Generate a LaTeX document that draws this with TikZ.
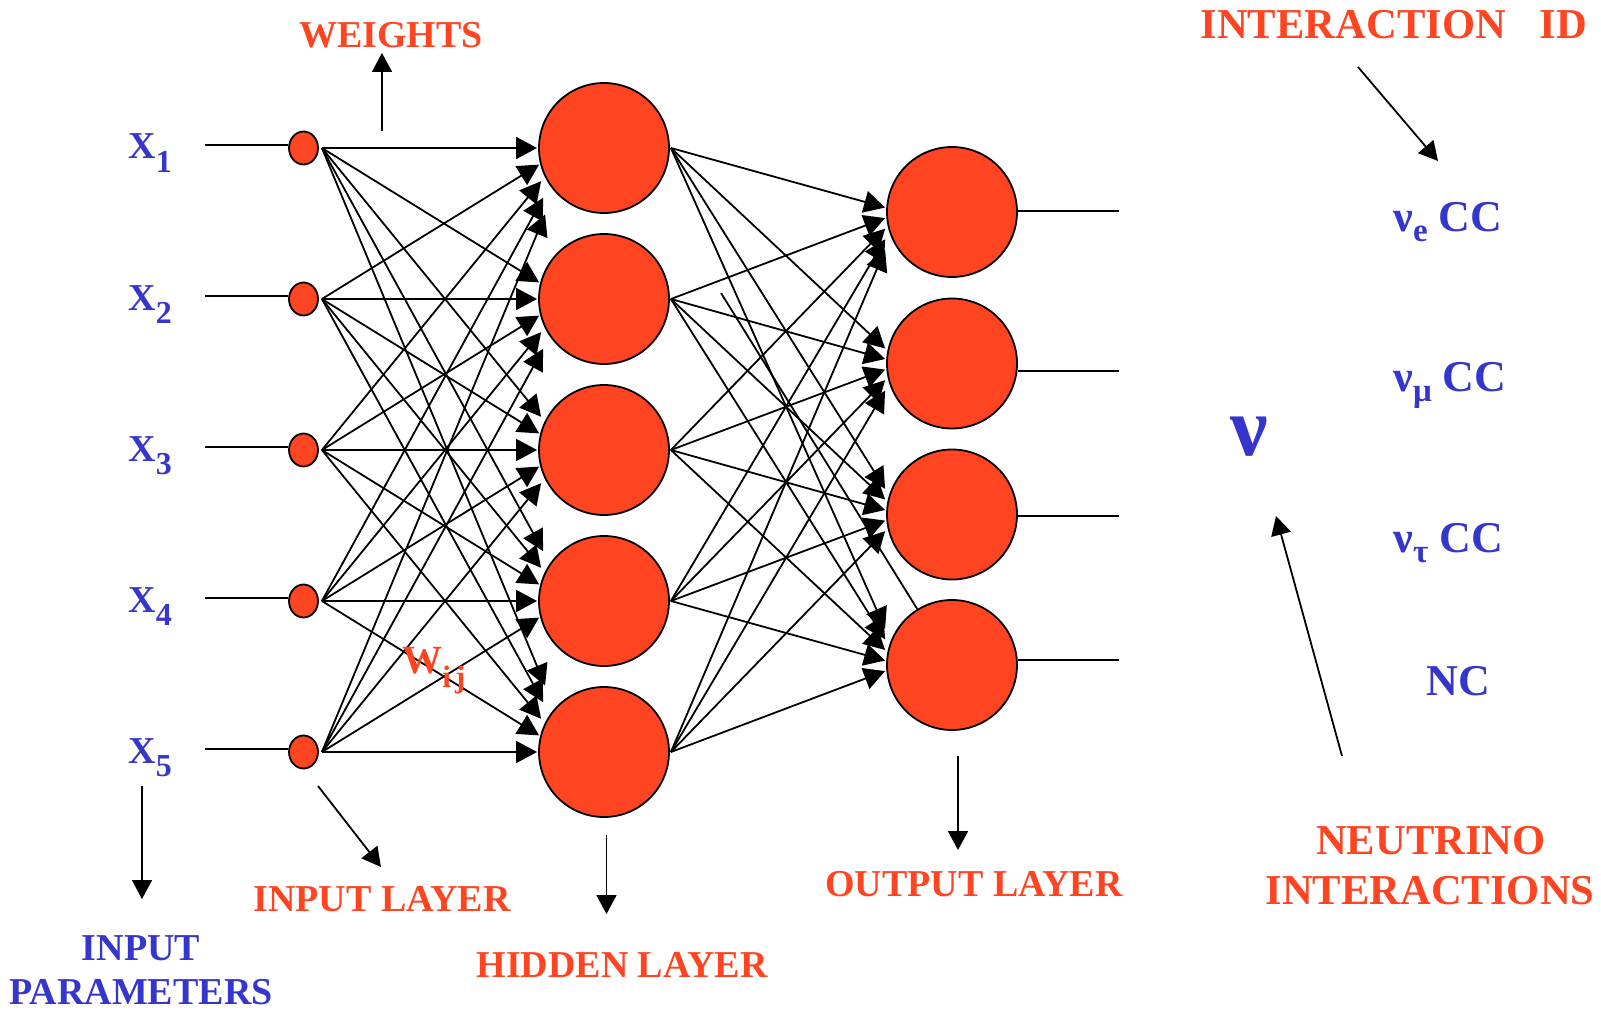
\documentclass[tikz,border=0pt]{standalone}
\usepackage{fontspec}
\setmainfont{Liberation Serif}
\usetikzlibrary{arrows.meta,shapes.geometric}
\definecolor{nred}{HTML}{FF4422}
\definecolor{nblue}{HTML}{3636CC}
\begin{document}
\begin{tikzpicture}[x=0.5pt,y=-0.5pt,
  conn/.style={line width=0.9pt,-{Triangle[length=9.5pt,width=10pt]}},
  nconn/.style={line width=0.9pt,-{Triangle[length=10.5pt,width=11pt]}},
  plain/.style={line width=0.9pt},
  inode/.style={ellipse,draw,line width=0.9pt,fill=nred,minimum width=14.5pt,minimum height=16.5pt,inner sep=0pt},
  bnode/.style={circle,draw,line width=0.9pt,fill=nred,minimum size=65pt,inner sep=0pt},
  rtxt/.style={text=nred,font=\bfseries\fontsize{19}{22}\selectfont,inner sep=0pt},
  btxt/.style={text=nblue,font=\bfseries\fontsize{19}{22}\selectfont,inner sep=0pt},
  rbig/.style={text=nred,font=\bfseries\fontsize{21.3}{24}\selectfont,inner sep=0pt},
  bbig/.style={text=nblue,font=\bfseries\fontsize{22}{24}\selectfont,inner sep=0pt}]
\useasboundingbox (0,0) rectangle (1601,1011);

% input, hidden layers
\foreach \i/\y in {1/148,2/299,3/450,4/601,5/752} {
  \node[inode] (in\i) at (303.5,\y) {};
  \node[bnode] (h\i) at (604,\y) {};
  \node[btxt,anchor=base west] (x\i) at (128,\y+11) {X\raisebox{-6.5pt}{\fontsize{16}{16}\selectfont \i}};
  \coordinate (s\i) at (205,\y-3);
  \draw[plain] (s\i) -- (s\i -| in\i.west);
}
% output layer
\foreach \k/\y/\l in {1/212/211,2/363.5/371,3/514.5/516,4/665/660} {
  \node[bnode] (o\k) at (952,\y) {};
  \coordinate (oe\k) at (1119,\l);
  \draw[plain] (oe\k -| o\k.east) -- (oe\k);
}

% input -> hidden
\foreach \i in {1,...,5} {
  \foreach \j in {1,...,5} {
    \pgfmathsetmacro\dd{\i-\j}
    \pgfmathsetmacro\sx{-1+2*abs(\dd)}
    \pgfmathsetmacro\sy{16.6*\dd}
    \draw[nconn] ([xshift=1.5pt]in\i.east) -- ([shift={(\sx,\sy)}]h\j.west);
  }
}
% hidden -> output
\foreach \j in {1,...,5} {
  \foreach \k in {1,...,4} {
    \pgfmathsetmacro\sy{0.07*(151*(\j-\k)-64)}
    \draw[nconn] ([xshift=0.5pt]h\j.east) -- ([shift={(-1,\sy)}]o\k.west);
  }
}
% stray segment
\coordinate (stray) at (721,293);
\draw[plain] (stray) -- (o4);

% labels
\node[rtxt] (wlab) at (391,35.5) {WEIGHTS};
\coordinate (wa1) at (382,131);
\coordinate (wa2) at (382,53);
\draw[conn] (wa1) -- (wa2);

\node[rtxt,anchor=base west] (wij) at (402,673) {\fontsize{20}{22}\selectfont W\raisebox{-7pt}{\fontsize{15.5}{15}\selectfont i\hspace{2pt}j}};

\node[btxt] (ip1) at (141,948.5) {INPUT};
\node[btxt] (ip2) at (141,992) {PARAMETERS};
\coordinate (ipa1) at (142,786);
\coordinate (ipa2) at (142,899);
\draw[conn] (ipa1) -- (ipa2);

\node[rtxt] (il) at (382,899.5) {INPUT LAYER};
\coordinate (ila1) at (318,786);
\coordinate (ila2) at (381,867);
\draw[conn] (ila1) -- (ila2);

\node[rtxt] (hl) at (622,964.5) {HIDDEN LAYER};
\coordinate (hla1) at (606.5,835);
\coordinate (hla2) at (606.5,914);
\draw[conn] (hla1) -- (hla2);

\node[rtxt] (ol) at (974,884) {OUTPUT LAYER};
\coordinate (ola1) at (958,756);
\coordinate (ola2) at (958,850);
\draw[conn] (ola1) -- (ola2);

\node[rbig] (iid) at (1394,24.5) {INTERACTION\hspace{17pt}ID};
\coordinate (iia1) at (1358,67);
\coordinate (iia2) at (1438,161);
\draw[conn] (iia1) -- (iia2);

\node[bbig,anchor=base west] (ve) at (1393,231) {ν\raisebox{-5pt}{\fontsize{16.5}{16}\selectfont e} CC};
\node[bbig,anchor=base west] (vm) at (1393,391) {ν\raisebox{-5pt}{\fontsize{16.5}{16}\selectfont μ} CC};
\node[bbig,anchor=base west] (vt) at (1393,552) {ν\raisebox{-5pt}{\fontsize{16.5}{16}\selectfont τ} CC};
\node[bbig,anchor=base west] (nc) at (1426.5,695) {NC};

\node[text=nblue,font=\bfseries\fontsize{42}{42}\selectfont,inner sep=0pt,anchor=base] (nu) at (1249,455) {ν};

\node[rbig] (ni1) at (1431,841) {NEUTRINO};
\node[rbig] (ni2) at (1430,891) {INTERACTIONS};
\coordinate (nia1) at (1342,756);
\coordinate (nia2) at (1276,516);
\draw[conn] (nia1) -- (nia2);
\end{tikzpicture}
\end{document}
